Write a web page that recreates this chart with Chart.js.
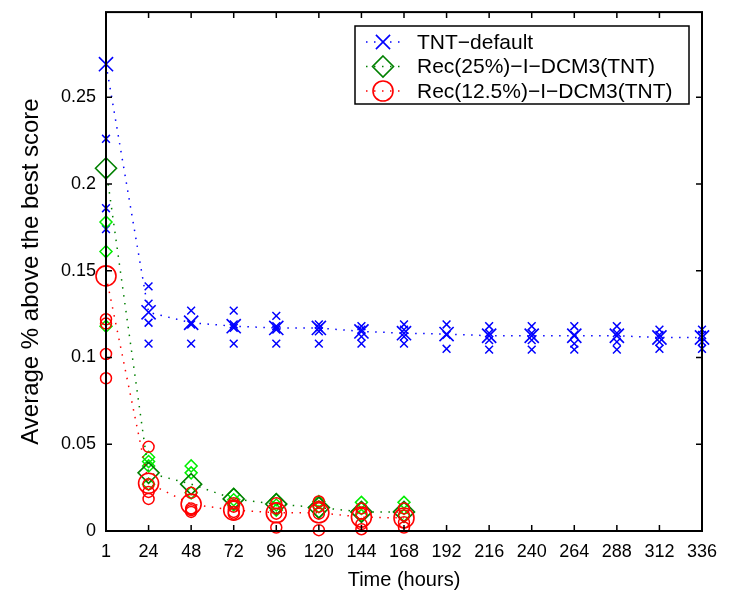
<!DOCTYPE html>
<html>
<head>
<meta charset="utf-8">
<script src="https://cdn.jsdelivr.net/npm/chart.js@4.4.0/dist/chart.umd.min.js"></script>
<style>
  html, body { margin: 0; padding: 0; background: #fff; }
  #wrap { width: 729px; height: 595px; }
</style>
</head>
<body>
<div id="wrap"><canvas id="myChart" width="729" height="595"></canvas></div>
<script>
// x categories (hours) and y ticks
const hours = [1, 24, 48, 72, 96, 120, 144, 168, 192, 216, 240, 264, 288, 312, 336];
const yTicks = [0, 0.05, 0.1, 0.15, 0.2, 0.25];

const seriesNames = ['TNT\u2212default', 'Rec(25%)\u2212I\u2212DCM3(TNT)', 'Rec(12.5%)\u2212I\u2212DCM3(TNT)'];

// TNT-default: average (big marker) and single runs (small markers)
const tntMean = [0.269, 0.126, 0.120, 0.118, 0.117, 0.117, 0.115, 0.114, 0.1135, 0.1125, 0.1125, 0.1125, 0.1125, 0.1115, 0.1115];
const tntRuns = [
  [0.226, 0.186, 0.174],
  [0.141, 0.131, 0.120, 0.108],
  [0.127, 0.119, 0.108],
  [0.127, 0.119, 0.117, 0.108],
  [0.124, 0.118, 0.116, 0.108],
  [0.119, 0.117, 0.115, 0.108],
  [0.118, 0.116, 0.112, 0.108],
  [0.119, 0.116, 0.112, 0.108],
  [0.119, 0.113, 0.105],
  [0.118, 0.114, 0.110, 0.1045],
  [0.118, 0.114, 0.110, 0.1045],
  [0.118, 0.113, 0.108, 0.1045],
  [0.118, 0.114, 0.109, 0.1045],
  [0.116, 0.113, 0.109, 0.105],
  [0.116, 0.113, 0.109, 0.105]
];

// Rec(25%)-I-DCM3(TNT)
const rec25Mean = [0.209, 0.0335, 0.027, 0.0185, 0.0155, 0.0135, 0.011, 0.011];
const rec25Runs = [
  [0.178, 0.161, 0.118],
  [0.0425, 0.040, 0.0375, 0.027],
  [0.0375, 0.0335, 0.022],
  [0.021, 0.018, 0.015],
  [0.018, 0.015, 0.012],
  [0.017, 0.014, 0.011],
  [0.0165, 0.013, 0.009],
  [0.0165, 0.013, 0.009]
];

// Rec(12.5%)-I-DCM3(TNT)
const rec125Mean = [0.147, 0.0275, 0.0155, 0.012, 0.0105, 0.0105, 0.008, 0.0075];
const rec125Runs = [
  [0.122, 0.1195, 0.102, 0.088],
  [0.0485, 0.027, 0.0225, 0.0185],
  [0.022, 0.013, 0.012, 0.011],
  [0.016, 0.014, 0.011, 0.010],
  [0.016, 0.013, 0.010, 0.002],
  [0.017, 0.014, 0.010, 0.0005],
  [0.013, 0.010, 0.004, 0.001],
  [0.013, 0.009, 0.005, 0.002]
];

const labels = hours.map(String);
const FONT = "'Liberation Sans', Arial, Helvetica, sans-serif";

// flatten runs into {x, y} points on the category axis
function runPoints(runs) {
  const pts = [];
  runs.forEach((vals, i) => vals.forEach(v => pts.push({ x: labels[i], y: v })));
  return pts;
}

function meanSet(label, data, color, style, radius, order) {
  return {
    label: label,
    data: data,
    borderColor: color,
    borderWidth: 1.5,
    borderDash: [1.5, 6.5],
    pointStyle: style,
    pointRadius: radius,
    pointBorderColor: color,
    pointBackgroundColor: 'rgba(0,0,0,0)',
    pointBorderWidth: 1.6,
    fill: false,
    tension: 0,
    clip: false,
    order: order
  };
}

function runSet(data, color, style, radius, order) {
  return {
    label: '',
    data: data,
    showLine: false,
    pointStyle: style,
    pointRadius: radius,
    pointBorderColor: color,
    pointBackgroundColor: 'rgba(0,0,0,0)',
    pointBorderWidth: 1.5,
    clip: false,
    order: order
  };
}

// inside tick marks + box, MATLAB style
const boxPlugin = {
  id: 'box',
  afterDatasetsDraw(chart) {
    const { ctx, chartArea: a, scales } = chart;
    const len = 6;
    ctx.save();
    ctx.strokeStyle = '#000';
    ctx.lineWidth = 1.5;
    ctx.beginPath();
    hours.forEach((h, i) => {
      const px = scales.x.getPixelForValue(i);
      ctx.moveTo(px, a.bottom); ctx.lineTo(px, a.bottom - len);
      ctx.moveTo(px, a.top); ctx.lineTo(px, a.top + len);
    });
    yTicks.forEach(v => {
      const py = scales.y.getPixelForValue(v);
      ctx.moveTo(a.left, py); ctx.lineTo(a.left + len, py);
      ctx.moveTo(a.right, py); ctx.lineTo(a.right - len, py);
    });
    ctx.stroke();
    ctx.lineWidth = 2;
    ctx.strokeRect(a.left, a.top, a.right - a.left, a.bottom - a.top);
    ctx.restore();
  }
};

function drawMarker(ctx, style, x, y, r) {
  ctx.beginPath();
  if (style === 'crossRot') {
    const d = r * Math.SQRT1_2;
    ctx.moveTo(x - d, y - d); ctx.lineTo(x + d, y + d);
    ctx.moveTo(x + d, y - d); ctx.lineTo(x - d, y + d);
  } else if (style === 'rectRot') {
    ctx.moveTo(x, y - r); ctx.lineTo(x + r, y); ctx.lineTo(x, y + r); ctx.lineTo(x - r, y); ctx.closePath();
  } else {
    ctx.arc(x, y, r, 0, Math.PI * 2);
  }
  ctx.stroke();
}

const legendPlugin = {
  id: 'matlabLegend',
  afterDraw(chart) {
    const ctx = chart.ctx;
    const items = [
      { color: '#0000ff', style: 'crossRot', r: 10 },
      { color: '#008000', style: 'rectRot', r: 10.5 },
      { color: '#ff0000', style: 'circle', r: 10 }
    ];
    const bx = 355, by = 26, bw = 334, bh = 78;
    ctx.save();
    ctx.fillStyle = '#fff';
    ctx.fillRect(bx, by, bw, bh);
    ctx.strokeStyle = '#000';
    ctx.lineWidth = 1.5;
    ctx.strokeRect(bx, by, bw, bh);
    items.forEach((it, i) => {
      const y = 42 + i * 24.5;
      ctx.strokeStyle = it.color;
      ctx.lineWidth = 1.5;
      ctx.setLineDash([1.5, 6.5]);
      ctx.beginPath();
      ctx.moveTo(366, y); ctx.lineTo(404, y);
      ctx.stroke();
      ctx.setLineDash([]);
      ctx.lineWidth = 1.6;
      drawMarker(ctx, it.style, 383, y, it.r);
      ctx.fillStyle = '#000';
      ctx.font = '21px ' + FONT;
      ctx.textBaseline = 'middle';
      ctx.textAlign = 'left';
      ctx.fillText(seriesNames[i], 417, y + 1);
    });
    ctx.restore();
  }
};

const ctx1 = document.getElementById('myChart').getContext('2d');
const myChart = new Chart(ctx1, {
  type: 'line',
  data: {
    labels: labels,
    datasets: [
      meanSet(seriesNames[2], rec125Mean, '#ff0000', 'circle', 10, 1),
      runSet(runPoints(rec125Runs), '#ff0000', 'circle', 5.5, 2),
      meanSet(seriesNames[1], rec25Mean, '#008000', 'rectRot', 10.5, 3),
      runSet(runPoints(rec25Runs), '#00ee00', 'rectRot', 6, 4),
      meanSet(seriesNames[0], tntMean, '#0000ff', 'crossRot', 10, 5),
      runSet(runPoints(tntRuns), '#0000ff', 'crossRot', 5.5, 6)
    ]
  },
  options: {
    responsive: false,
    animation: false,
    devicePixelRatio: 1,
    events: [],
    layout: { padding: { top: 10, right: 27, left: 0, bottom: 0 } },
    plugins: {
      legend: { display: false },
      tooltip: { enabled: false }
    },
    scales: {
      x: {
        type: 'category',
        offset: false,
        grid: { display: false, drawTicks: false },
        border: { display: false },
        ticks: {
          color: '#000',
          font: { family: FONT, size: 18 },
          padding: 10,
          maxRotation: 0,
          autoSkip: false
        },
        title: {
          display: true,
          text: 'Time (hours)',
          color: '#000',
          font: { family: FONT, size: 20 },
          padding: { top: 0, bottom: 3 }
        },
        afterFit: (s) => { s.height = 64; s.paddingLeft = 0; s.paddingRight = 0; }
      },
      y: {
        type: 'linear',
        min: 0,
        max: 0.299,
        grid: { display: false, drawTicks: false },
        border: { display: false },
        afterBuildTicks: (s) => { s.ticks = yTicks.map(v => ({ value: v })); },
        ticks: {
          color: '#000',
          font: { family: FONT, size: 18 },
          padding: 10,
          callback: (v) => String(Number(v.toFixed(2)))
        },
        title: {
          display: true,
          text: 'Average % above the best score',
          color: '#000',
          font: { family: FONT, size: 24 },
          padding: { top: 17, bottom: 0 }
        },
        afterFit: (s) => { s.width = 106; s.paddingTop = 0; s.paddingBottom = 0; }
      }
    }
  },
  plugins: [boxPlugin, legendPlugin]
});
</script>
</body>
</html>
